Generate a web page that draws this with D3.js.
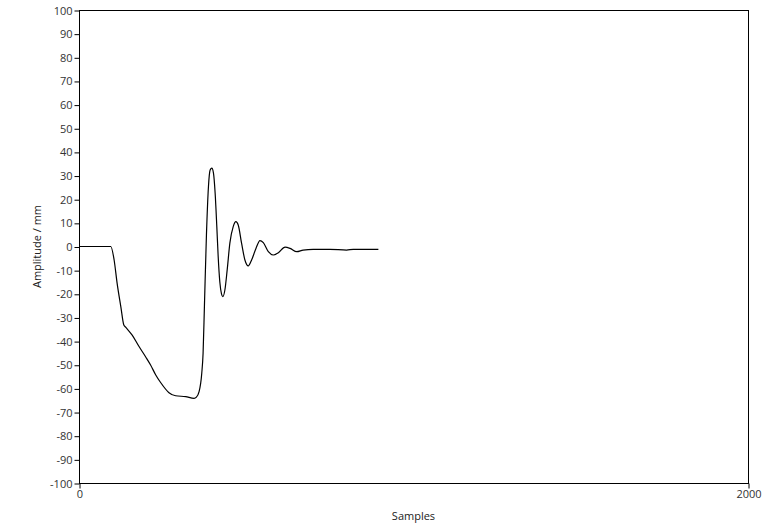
<!doctype html>
<html lang="en">
<head>
<meta charset="utf-8">
<title>Amplitude</title>
<script src="https://cdn.jsdelivr.net/npm/d3@7"></script>
<style>
  body { margin: 0; background: #fff; }
  svg text { font-family: "Segoe UI", "Open Sans", sans-serif; }
</style>
</head>
<body>
<svg id="chart" width="772" height="524"></svg>
<script>
// samples (x) and amplitude in mm (y)
var samples = [0, 95, 105, 114, 125, 134, 140, 159, 179, 199, 214, 229, 244, 269, 289, 319, 344, 351, 359,
  367, 371, 375, 381, 387, 392, 397, 402, 407, 412, 416, 421, 426, 430, 436, 443, 451, 461, 469, 476, 486,
  496, 506, 516, 529, 541, 551, 566, 581, 596, 616, 631, 651, 670, 700, 750, 800, 820, 860, 895];
var amplitude = [0, 0, -5.7, -15.6, -25.4, -33.2, -34.2, -37.5, -42.2, -46.6, -50.1, -54.2, -57.5, -61.8, -63.1, -63.5, -64.2, -63.7, -61.4,
  -53.6, -45, -25, 5, 25.3, 32.3, 33.1, 31, 22.5, 8.4, -4, -15, -20, -21.2, -18.5, -9.9, 1.4, 8.4, 10.5, 9.1, 1.4,
  -5.7, -8.2, -5.7, -0.8, 2.5, 1.6, -2.2, -3.6, -2.6, -0.3, -0.8, -2.2, -1.5, -1.2, -1.2, -1.5, -1.2, -1.2, -1.2];
var yTicks = d3.range(-100, 101, 10);
var xTicks = [0, 2000];

var plotLeft = 79, plotRight = 748, plotTop = 10, plotBottom = 483;

var svg = d3.select("#chart");

var x = d3.scaleLinear().domain([0, 2000]).range([plotLeft, plotRight]);
var y = d3.scaleLinear().domain([-100, 100]).range([plotBottom, plotTop]);

// frame
svg.append("rect")
    .attr("x", plotLeft + 0.5)
    .attr("y", plotTop + 0.5)
    .attr("width", plotRight - plotLeft)
    .attr("height", plotBottom - plotTop)
    .attr("fill", "none")
    .attr("stroke", "#000")
    .attr("stroke-width", 1);

var yAxis = svg.append("g")
    .attr("transform", "translate(" + (plotLeft + 0.5) + ",0.5)")
    .call(d3.axisLeft(y).tickValues(yTicks).tickSize(5).tickPadding(2).tickFormat(String));

var xAxis = svg.append("g")
    .attr("transform", "translate(0.5," + (plotBottom + 0.5) + ")")
    .call(d3.axisBottom(x).tickValues(xTicks).tickSize(5).tickPadding(2).tickFormat(String));

[yAxis, xAxis].forEach(function (a) {
  a.select(".domain").remove();
  a.selectAll("line").attr("stroke", "#000");
  a.selectAll("text")
      .attr("fill", "#333")
      .style("font-size", "11px")
      .style("font-family", "'Segoe UI', 'Open Sans', sans-serif");
});

var data = samples.map(function (s, i) { return [s, amplitude[i]]; });

var line = d3.line()
    .x(function (d) { return x(d[0]); })
    .y(function (d) { return y(d[1]); })
    .curve(d3.curveMonotoneX);

svg.append("path")
    .datum(data)
    .attr("d", line)
    .attr("fill", "none")
    .attr("stroke", "#000")
    .attr("stroke-width", 1.2);

svg.append("text")
    .attr("x", (plotLeft + plotRight) / 2)
    .attr("y", 520)
    .attr("text-anchor", "middle")
    .attr("fill", "#222")
    .style("font-size", "11px")
    .text("Samples");

svg.append("text")
    .attr("transform", "translate(41," + (plotTop + plotBottom) / 2 + ") rotate(-90)")
    .attr("text-anchor", "middle")
    .attr("fill", "#222")
    .style("font-size", "11px")
    .text("Amplitude / mm");
</script>
</body>
</html>
